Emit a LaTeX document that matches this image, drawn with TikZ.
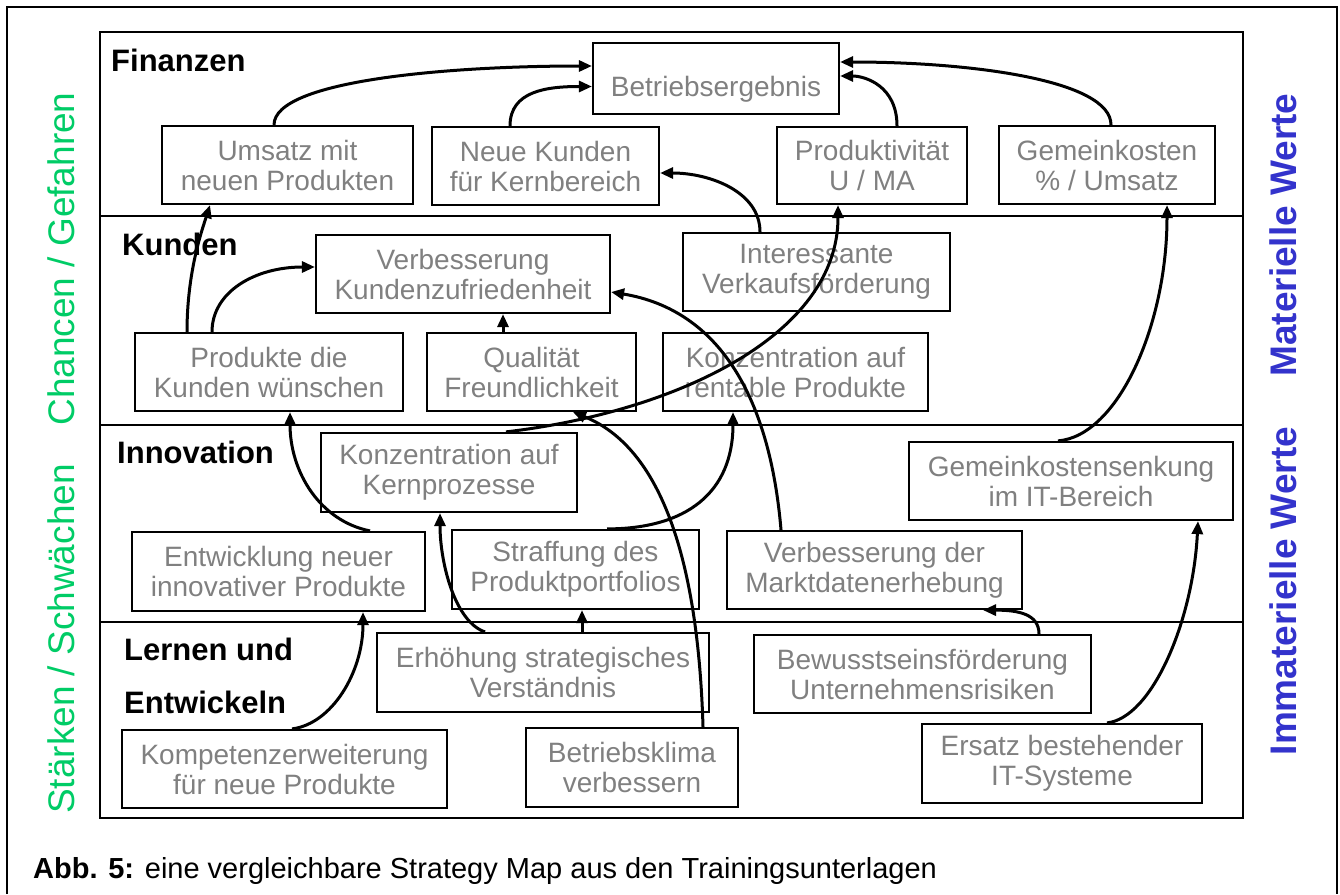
\documentclass[tikz,border=0pt]{standalone}
\usepackage{fontspec}
\setmainfont{Liberation Sans}
\usepackage{xcolor}
\usepackage{tikz}
\usetikzlibrary{arrows.meta}
\definecolor{zielgrau}{RGB}{128,128,128}
\definecolor{chancengruen}{RGB}{0,204,102}
\definecolor{werteblau}{RGB}{51,51,204}
\newcommand\zielfont{\fontsize{28}{30}\selectfont}
\newcommand\ebenefont{\fontsize{31}{33}\selectfont\bfseries}
\newcommand\seitenfont{\fontsize{37}{40}\selectfont}
\tikzset{
	ziel/.style={draw,line width=2.2pt,text=zielgrau,font=\zielfont,align=center,inner sep=0pt},
	pfeil/.style={->,line width=3pt},
	ebene/.style={font=\ebenefont,anchor=west,inner sep=0pt},
	rahmen/.style={line width=2.5pt}
}

\begin{document}
\begin{tikzpicture}[>={Triangle[length=13pt,width=11pt]},x=1pt,y=-1pt]
	\useasboundingbox (0,0) rectangle (1340,894);
	% Rahmen und Ebenen
	\draw[rahmen] (7,894)--(7,7)--(1337,7)--(1337,894);
	\draw[rahmen] (100,32) rectangle (1243,818);
	\foreach \y in {216,425,622} \draw[rahmen] (100,\y)--(1243,\y);
	\node[ebene] (finanzen) at (111,60) {Finanzen};
	\node[ebene] (kunden) at (122,244) {Kunden};
	\node[ebene] (innovation) at (117,452) {Innovation};
	\node[ebene] (lernen) at (124,649) {Lernen und};
	\node[ebene] (entwickeln) at (124,702) {Entwickeln};
	% Seitentexte
	\node[font=\seitenfont,text=chancengruen,rotate=90,inner sep=0pt] (chancen) at (61,259) {Chancen / Gefahren};
	\node[font=\seitenfont,text=chancengruen,rotate=90,inner sep=0pt] (staerken) at (61,639) {Stärken / Schwächen};
	\node[font=\seitenfont\bfseries,text=werteblau,rotate=90,inner sep=0pt] (materiell) at (1283,235) {Materielle Werte};
	\node[font=\seitenfont\bfseries,text=werteblau,rotate=90,inner sep=0pt] (immateriell) at (1283,591) {Immaterielle Werte};
	% Finanzen
	\node[ziel,minimum width=246pt,minimum height=71pt,text height=35pt,text depth=0pt] (betrieb) at (716,78.5) {Betriebsergebnis};
	\node[ziel,minimum width=251pt,minimum height=78pt] (umsatz) at (287.5,165) {Umsatz mit\\neuen Produkten};
	\node[ziel,minimum width=227pt,minimum height=78pt] (neukunden) at (545.5,166) {Neue Kunden\\für Kernbereich};
	\node[ziel,minimum width=190pt,minimum height=77pt] (produktiv) at (872,165.5) {Produktivität\\U / MA};
	\node[ziel,minimum width=216pt,minimum height=78pt] (gemeinko) at (1107,165) {Gemeinkosten\\\% / Umsatz};
	% Kunden
	\node[ziel,minimum width=294pt,minimum height=78pt] (kundzuf) at (463,274) {Verbesserung\\Kundenzufriedenheit};
	\node[ziel,minimum width=267pt,minimum height=78pt] (verkauf) at (816.5,272) {Interessante\\Verkaufsförderung};
	\node[ziel,minimum width=268pt,minimum height=78pt] (prodwunsch) at (269,372) {Produkte die\\Kunden wünschen};
	\node[ziel,minimum width=209pt,minimum height=78pt] (qualitaet) at (531.5,372) {Qualität\\Freundlichkeit};
	\node[ziel,minimum width=265pt,minimum height=78pt] (rentabel) at (795.5,372) {Konzentration auf\\rentable Produkte};
	% Innovation
	\node[ziel,minimum width=256pt,minimum height=79pt] (kernproz) at (449,472.5) {Konzentration auf\\Kernprozesse};
	\node[ziel,minimum width=324pt,minimum height=78pt] (itsenk) at (1071,481) {Gemeinkostensenkung\\im IT-Bereich};
	\node[ziel,minimum width=293pt,minimum height=79pt] (entwickl) at (278.5,571.5) {Entwicklung neuer\\innovativer Produkte};
	\node[ziel,minimum width=247pt,minimum height=79pt] (straffung) at (575.5,569.5) {Straffung des\\Produktportfolios};
	\node[ziel,minimum width=295pt,minimum height=78pt] (marktdaten) at (874.5,570) {Verbesserung der\\Marktdatenerhebung};
	% Lernen und Entwickeln
	\node[ziel,minimum width=332pt,minimum height=79pt] (verstaendnis) at (543,672.5) {Erhöhung strategisches\\Verständnis};
	\node[ziel,minimum width=337pt,minimum height=78pt] (risiken) at (922.5,674) {Bewusstseinsförderung\\Unternehmensrisiken};
	\node[ziel,minimum width=325pt,minimum height=78pt] (kompetenz) at (284.5,769) {Kompetenzerweiterung\\für neue Produkte};
	\node[ziel,minimum width=212pt,minimum height=79pt] (klima) at (632,767.5) {Betriebsklima\\verbessern};
	\node[ziel,minimum width=280pt,minimum height=79pt] (itersatz) at (1062,763.5) {Ersatz bestehender\\IT-Systeme};
	% Ursache-Wirkung
	\draw[pfeil] ([xshift=-13.5pt]umsatz.north) .. controls +(0,-45) and +(-140,0) .. ([yshift=12.5pt]betrieb.west);
	\draw[pfeil] ([xshift=-35.5pt]neukunden.north) .. controls +(0,-35) and +(-45,0) .. ([yshift=-8pt]betrieb.west);
	\draw[pfeil] ([xshift=25pt]produktiv.north) .. controls +(0,-40) and +(25,0) .. ([yshift=2.5pt]betrieb.east);
	\draw[pfeil] ([xshift=4pt]gemeinko.north) .. controls +(0,-45) and +(130,0) .. ([yshift=16.5pt]betrieb.east);
	\draw[pfeil] ([xshift=-82pt]prodwunsch.north) .. controls +(0,-60) and +(-8,25) .. ([xshift=-77.5pt]umsatz.south);
	\draw[pfeil] ([xshift=-57pt]prodwunsch.north) .. controls +(0,-40) and +(-60,0) .. ([yshift=7pt]kundzuf.west);
	\draw[pfeil] ([xshift=-28.5pt]qualitaet.north) -- ([xshift=40pt]kundzuf.south);
	\draw[pfeil] ([xshift=-56.5pt]verkauf.north) .. controls +(0,-40) and +(50,0) .. ([yshift=-7pt]neukunden.east);
	\draw[pfeil] ([xshift=57pt]kernproz.north) .. controls +(170,-20) and +(0,130) .. ([xshift=-34pt]produktiv.south);
	\draw[pfeil] ([xshift=71pt]klima.north) .. controls +(-5,-170) and +(87,35) .. ([xshift=41.5pt]qualitaet.south);
	\draw[pfeil] ([xshift=-93.5pt]marktdaten.north) .. controls +(-11,-131) and +(109,18) .. ([yshift=-18pt]kundzuf.east);
	\draw[pfeil] ([xshift=31.5pt]straffung.north) .. controls +(80,0) and +(0,80) .. ([xshift=-62.5pt]rentabel.south);
	\draw[pfeil] ([xshift=91.5pt]entwickl.north) .. controls +(-50,-10) and +(0,60) .. ([xshift=21pt]prodwunsch.south);
	\draw[pfeil] ([xshift=-58pt]verstaendnis.north) .. controls +(-30,-10) and +(0,50) .. ([xshift=-9pt]kernproz.south);
	\draw[pfeil] ([xshift=39pt]verstaendnis.north) -- ([xshift=6.5pt]straffung.south);
	\draw[pfeil] ([xshift=7.5pt]kompetenz.north) .. controls +(40,-5) and +(0,60) .. ([xshift=84.5pt]entwickl.south);
	\draw[pfeil] ([xshift=116.5pt]risiken.north) .. controls +(0,-20) and +(35,0) .. ([xshift=108.5pt]marktdaten.south);
	\draw[pfeil] ([xshift=45pt]itersatz.north) .. controls +(45,-5) and +(-5,100) .. ([xshift=127pt]itsenk.south);
	\draw[pfeil] ([xshift=-13pt]itsenk.north) .. controls +(60,-5) and +(0,120) .. ([xshift=60pt]gemeinko.south);
	% Bildunterschrift
	\node[anchor=base west,inner sep=0pt,font=\fontsize{29}{31}\selectfont] (caption) at (33,878) {\textbf{Abb. 5:} eine vergleichbare Strategy Map aus den Trainingsunterlagen};
\end{tikzpicture}
\end{document}
